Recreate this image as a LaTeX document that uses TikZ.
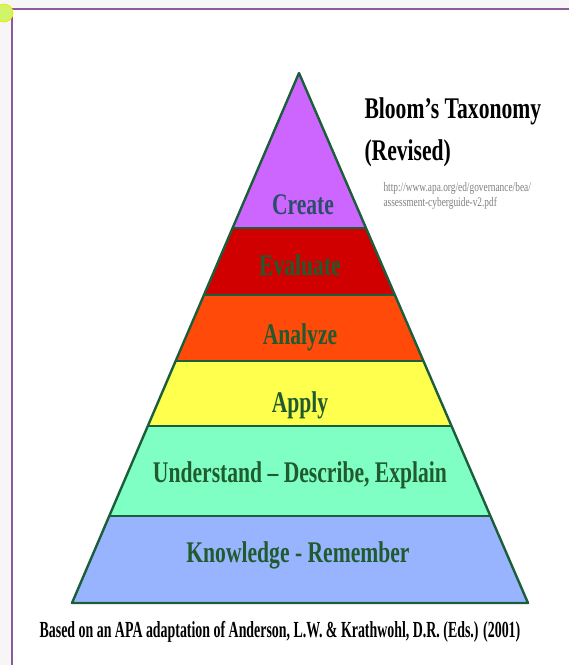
\documentclass[tikz,border=0pt]{standalone}
\usepackage{fontspec}
\setmainfont{Liberation Serif}[FakeStretch=0.72]
\usetikzlibrary{calc}
\definecolor{edgegreen}{HTML}{1B5E3B}
\definecolor{textgreen}{HTML}{1F5B2E}
\definecolor{createtext}{HTML}{2C4D6A}
\definecolor{createcol}{HTML}{CC66FF}
\definecolor{evalcol}{HTML}{D00000}
\definecolor{analyzecol}{HTML}{FF4A0A}
\definecolor{applycol}{HTML}{FFFF4D}
\definecolor{undercol}{HTML}{80FFC4}
\definecolor{knowcol}{HTML}{99B4FF}
\definecolor{framepurple}{HTML}{8E5A9E}
\definecolor{dotgreen}{HTML}{CFF56A}
\tikzset{
  layeredge/.style={draw=edgegreen, line width=2.4pt, line join=round},
  layertext/.style={text=textgreen, font=\bfseries\fontsize{30}{30}\selectfont},
  titletext/.style={anchor=base west, font=\bfseries\fontsize{30}{34}\selectfont},
  urltext/.style={anchor=base west, text=gray, font=\fontsize{13}{15}\selectfont}
}
\begin{document}
\begin{tikzpicture}[x=1pt,y=-1pt]
\useasboundingbox (0,0) rectangle (569,665);
% screen frame
\fill[gray!7] (0,0) rectangle (569,665);
\fill[white] (12,9) rectangle (569,665);
\draw[framepurple, line width=1.8pt] (12,665) -- (12,9) -- (569,9);
\draw[yellow!85!orange, line width=0.8pt, fill=dotgreen] (4,13) circle (9);
% pyramid
\coordinate (apex) at (299,73);
\coordinate (bl) at (72,603);
\coordinate (br) at (528,603);
\foreach \ta/\tb/\col in {0/0.2925/createcol, 0.2925/0.4189/evalcol, 0.4189/0.5434/analyzecol,
    0.5434/0.6660/applycol, 0.6660/0.8358/undercol, 0.8358/1/knowcol}
  \fill[\col] ($(apex)!\ta!(bl)$) -- ($(apex)!\tb!(bl)$) -- ($(apex)!\tb!(br)$) -- ($(apex)!\ta!(br)$) -- cycle;
\foreach \t in {0.2925, 0.4189, 0.5434, 0.6660, 0.8358}
  \draw[layeredge] ($(apex)!\t!(bl)$) -- ($(apex)!\t!(br)$);
\draw[layeredge] (apex) -- (bl) -- (br) -- cycle;
% labels
\node[layertext, text=createtext] (create) at (303,205) {Create};
\node[layertext] (evaluate) at (300,265) {Evaluate};
\node[layertext] (analyze) at (300,337) {Analyze};
\node[layertext] (apply) at (300,405) {Apply};
\node[layertext] (understand) at (300,475) {Understand – Describe, Explain};
\node[layertext] (knowledge) at (298,555) {Knowledge - Remember};
% title
\node[titletext] (title1) at (361,118) {Bloom’s Taxonomy};
\node[titletext] (title2) at (361,160) {(Revised)};
\node[urltext] (url1) at (380,191) {http://www.apa.org/ed/governance/bea/};
\node[urltext] (url2) at (380,206) {assessment-cyberguide-v2.pdf};
% source
\node[xscale=0.84, font=\bfseries\fontsize{23}{25}\selectfont] (source) at (280,632) {Based on an APA adaptation of Anderson, L.W. \& Krathwohl, D.R. (Eds.) (2001)};
\end{tikzpicture}
\end{document}
